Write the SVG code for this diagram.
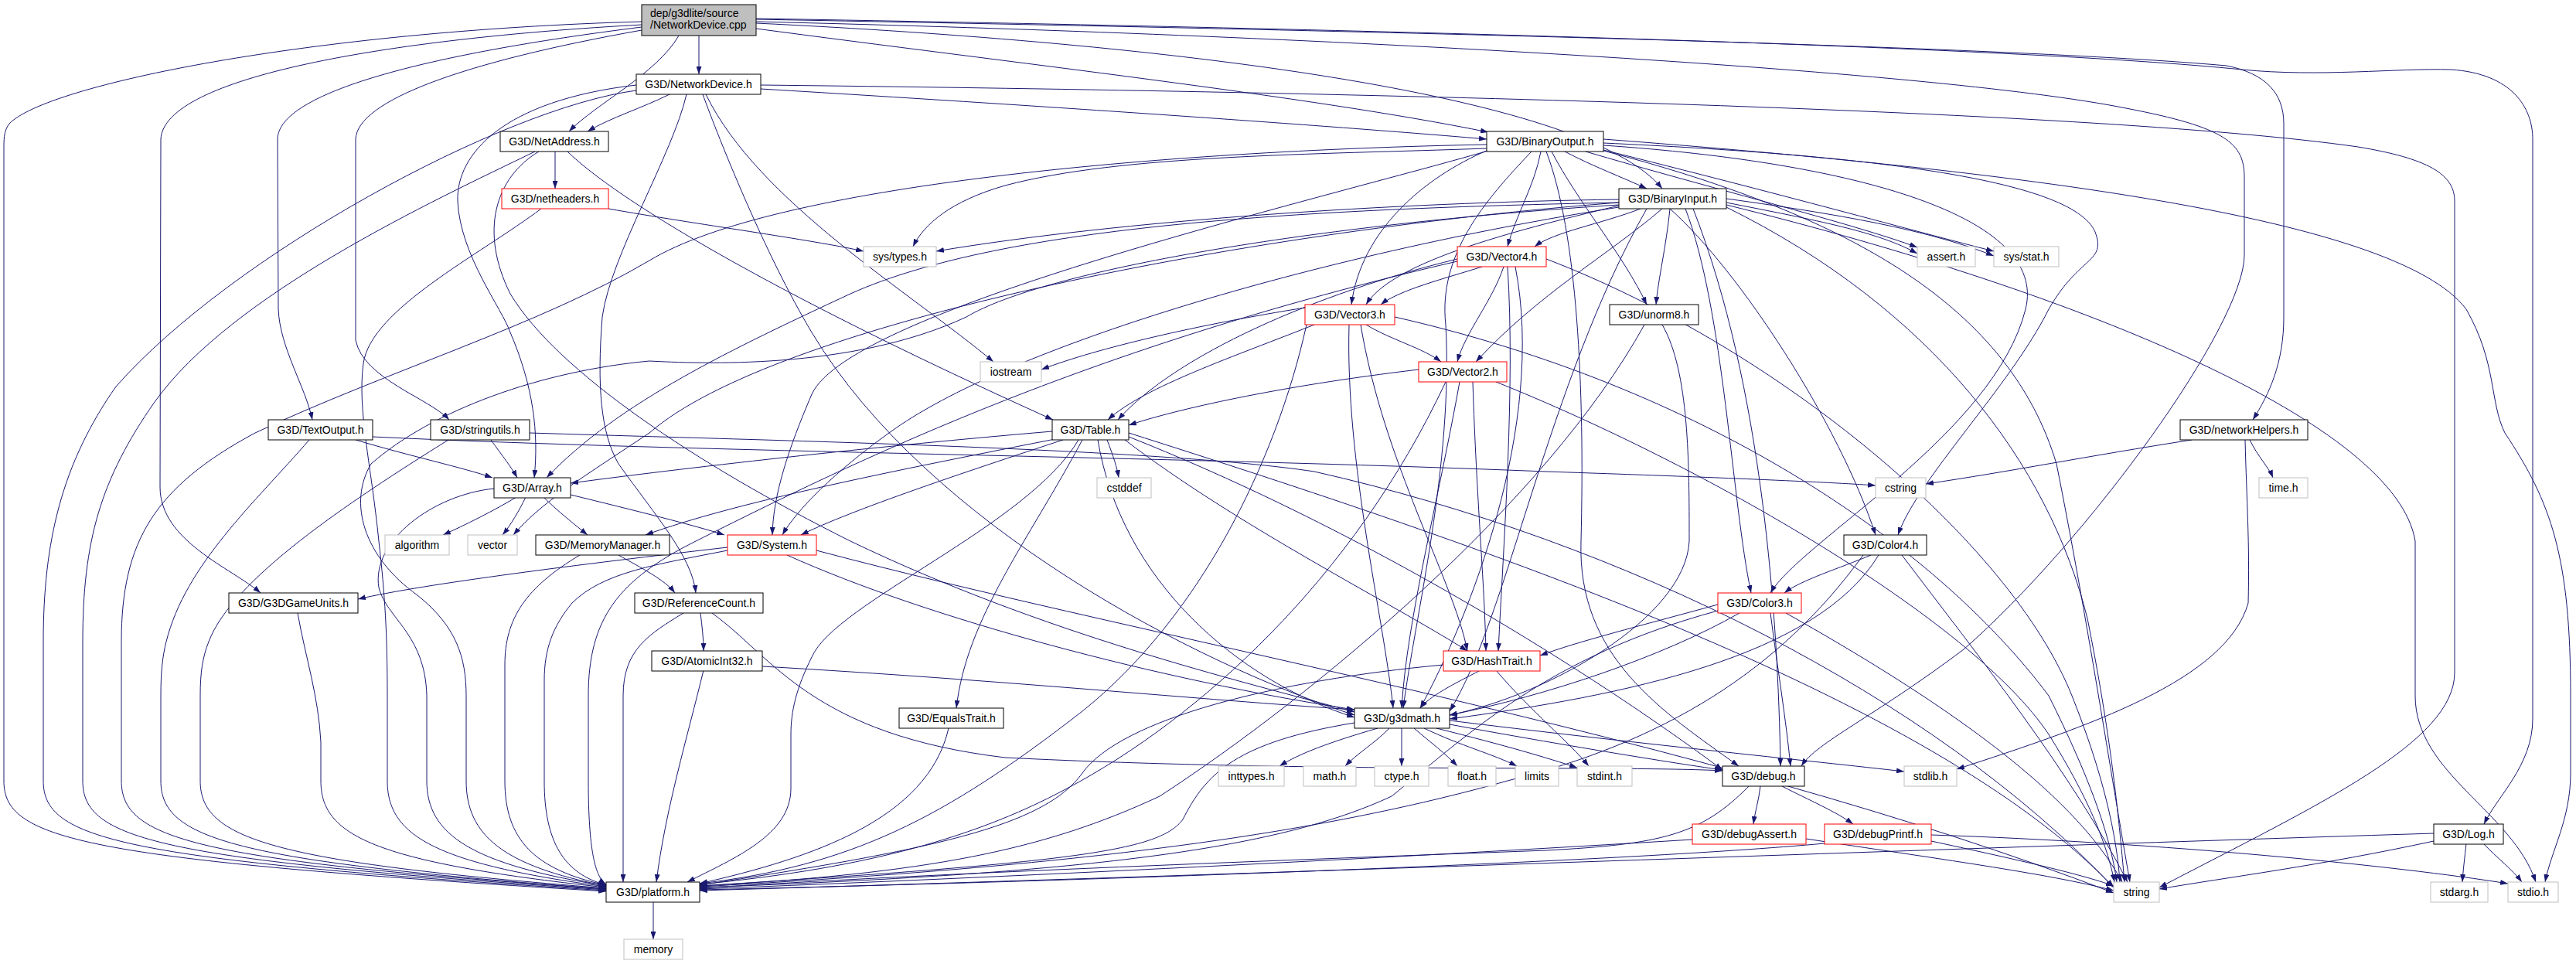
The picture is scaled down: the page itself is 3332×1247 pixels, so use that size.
<svg xmlns="http://www.w3.org/2000/svg" width="3332" height="1247" viewBox="0 0 3332 1247">
<style>
.e{fill:none;stroke:#191970;stroke-width:1;marker-end:url(#a)}
.n rect{fill:#fff;stroke:#000;stroke-width:1}
.r rect{fill:#fff;stroke:#ff0000;stroke-width:1}
.s rect{fill:#fff;stroke:#bfbfbf;stroke-width:1}
.root rect{fill:#bfbfbf;stroke:#000;stroke-width:1}
text{font-family:"Liberation Sans",Arial,sans-serif;font-size:14px;fill:#000;text-anchor:middle}
.root text{text-anchor:start}
</style>
<defs>
<marker id="a" viewBox="0 0 10 7" refX="10" refY="3.5" markerWidth="10" markerHeight="7" markerUnits="userSpaceOnUse" orient="auto"><path d="M0,0L10,3.5L0,7z" fill="#191970"/></marker>
</defs>
<rect width="3332" height="1247" fill="#fff"/>
<g id="edges">
<path class="e" d="M904,46 L904,96"/>
<path class="e" d="M878,46 C850,95 770,135 736,170"/>
<path class="e" d="M978,37 C1300,80 1700,125 1925,171"/>
<path class="e" d="M978,30 C1500,55 2050,120 2150,244"/>
<path class="e" d="M830,28 C400,40 60,110 12,160 C6,168 5,176 5,190 L5,1010 C5,1085 100,1112 784,1153"/>
<path class="e" d="M830,32 C500,50 212,100 208,180 L207,630 C207,700 300,735 337,767"/>
<path class="e" d="M830,35 C550,70 360,120 359,180 L360,400 C362,450 395,500 404,543"/>
<path class="e" d="M830,39 C600,80 462,130 460,180 L460,440 C470,490 555,515 581,543"/>
<path class="e" d="M978,28 C1700,45 2500,90 2750,140 C2880,165 2903,185 2903,230 L2903,330 C2903,420 2700,700 2540,840 C2420,930 2350,960 2330,991"/>
<path class="e" d="M978,25 C1800,40 2600,60 2880,85 C2930,95 2954,120 2954,160 L2954,410 C2954,470 2935,510 2914,543"/>
<path class="e" d="M978,24 C1800,38 2600,60 2900,90 C3000,100 3100,88 3170,90 C3250,95 3276,140 3276,180 L3276,930 C3276,990 3230,1030 3213,1066"/>
<path class="e" d="M866,122 C830,140 790,152 760,170"/>
<path class="e" d="M984,115 C1400,140 1750,165 1923,180"/>
<path class="e" d="M984,110 C1700,118 2700,140 3050,190 C3140,205 3175,225 3175,260 L3175,870 C3175,960 3000,1040 2793,1148"/>
<path class="e" d="M823,117 C650,140 300,330 150,500 C80,600 56,700 56,830 L56,1010 C56,1085 150,1112 784,1152"/>
<path class="e" d="M823,110 C650,130 590,200 592,260 C595,330 650,400 660,430 C690,500 697,560 691,618"/>
<path class="e" d="M888,122 C870,200 790,330 779,410 C772,500 777,560 800,600 C850,670 895,720 900,767"/>
<path class="e" d="M909,122 C930,180 990,330 1050,430 C1200,680 1550,860 1752,925"/>
<path class="e" d="M913,122 C980,260 1180,380 1285,468"/>
<path class="e" d="M718,196 L718,244"/>
<path class="e" d="M692,196 C560,260 300,380 200,520 C130,620 107,700 107,830 L107,1010 C107,1085 200,1112 784,1151"/>
<path class="e" d="M697,196 C640,230 620,300 660,380 C720,480 900,600 1100,700 C1350,820 1600,880 1752,921"/>
<path class="e" d="M734,196 C800,260 1000,380 1362,543"/>
<path class="e" d="M787,270 C900,290 1050,310 1117,325"/>
<path class="e" d="M700,270 C620,330 480,400 470,470 C462,530 480,600 490,700 C498,770 501,820 501,900 L501,1010 C501,1080 560,1117 784,1147"/>
<path class="e" d="M2024,196 C2060,215 2100,230 2130,244"/>
<path class="e" d="M1993,196 C1985,240 1960,280 1950,319"/>
<path class="e" d="M1925,194 C1840,230 1760,300 1748,394"/>
<path class="e" d="M2007,196 C2040,260 2100,330 2130,394"/>
<path class="e" d="M2051,196 C2200,240 2400,290 2480,320"/>
<path class="e" d="M2074,194 C2300,250 2480,300 2579,325"/>
<path class="e" d="M1923,192 C1700,200 1450,200 1300,240 C1230,260 1195,290 1181,319"/>
<path class="e" d="M1923,187 C1500,195 1000,240 840,337 C700,420 500,480 330,560 C200,630 157,700 157,830 L157,1010 C157,1085 250,1113 784,1150"/>
<path class="e" d="M1925,195 C1700,260 1100,400 1050,510 C1020,580 1000,640 999,692"/>
<path class="e" d="M1981,196 C1920,260 1860,330 1870,420 C1880,600 1830,800 1815,916"/>
<path class="e" d="M2074,185 C2400,200 2680,230 2710,300 C2725,340 2690,330 2650,400 C2600,500 2480,620 2455,692"/>
<path class="e" d="M2074,188 C2400,210 2650,280 2620,400 C2580,560 2330,700 2290,767"/>
<path class="e" d="M2000,196 C2040,300 2050,500 2045,700 C2040,850 2150,920 2249,991"/>
<path class="e" d="M2074,195 C2400,280 2600,400 2660,600 C2700,800 2730,1000 2755,1141"/>
<path class="e" d="M2074,180 C2600,220 3100,280 3190,400 C3230,470 3220,520 3240,560 C3300,650 3325,720 3325,900 L3325,1000 C3325,1060 3300,1100 3292,1141"/>
<path class="e" d="M2122,270 C2070,290 2010,300 1985,319"/>
<path class="e" d="M2094,266 C1950,300 1800,340 1767,394"/>
<path class="e" d="M2160,270 C2155,320 2145,360 2142,394"/>
<path class="e" d="M2150,270 C2080,330 1990,380 1909,468"/>
<path class="e" d="M2233,262 C2350,285 2430,300 2480,328"/>
<path class="e" d="M2233,257 C2400,280 2500,300 2579,331"/>
<path class="e" d="M2094,258 C1800,262 1450,285 1211,325"/>
<path class="e" d="M2094,262 C1700,270 1300,290 1100,380 C950,450 800,520 707,618"/>
<path class="e" d="M2094,268 C1700,330 1300,450 1150,560 C1080,610 1030,660 1012,692"/>
<path class="e" d="M2130,270 C2000,500 1950,800 1875,920"/>
<path class="e" d="M2190,270 C2280,500 2300,800 2303,991"/>
<path class="e" d="M2160,270 C2250,350 2380,550 2426,692"/>
<path class="e" d="M2180,270 C2230,400 2240,650 2265,767"/>
<path class="e" d="M2233,268 C2500,400 2650,600 2700,800 C2730,950 2740,1050 2748,1141"/>
<path class="e" d="M2233,265 C2700,380 3100,550 3124,700 L3124,900 C3124,1000 3250,1050 3280,1141"/>
<path class="e" d="M2094,265 C1700,290 1350,350 1250,410 C1100,480 900,470 840,467 C700,480 560,530 480,600 C450,650 470,720 540,770 C590,810 603,850 603,900 L603,1010 C603,1080 650,1120 784,1146"/>
<path class="e" d="M2094,262 C1600,300 1000,420 840,560 C750,620 700,650 664,692"/>
<path class="e" d="M1917,345 C1870,360 1810,375 1786,394"/>
<path class="e" d="M1945,345 C1930,390 1895,430 1885,468"/>
<path class="e" d="M1950,345 C1960,500 1945,700 1938,842"/>
<path class="e" d="M1960,345 C2000,550 1900,800 1837,916"/>
<path class="e" d="M1885,338 C1400,450 1100,600 900,700 C800,750 761,800 761,900 L761,1010 C761,1100 770,1135 784,1144"/>
<path class="e" d="M1885,335 C1700,380 1520,460 1446,543"/>
<path class="e" d="M2000,335 C2300,450 2600,700 2680,900 C2720,1000 2738,1080 2742,1141"/>
<path class="e" d="M1767,420 C1800,440 1840,450 1864,468"/>
<path class="e" d="M1688,398 C1550,420 1420,450 1347,478"/>
<path class="e" d="M1700,420 C1600,460 1480,500 1433,543"/>
<path class="e" d="M1745,420 C1740,600 1790,800 1802,916"/>
<path class="e" d="M1760,420 C1790,600 1880,750 1898,842"/>
<path class="e" d="M1690,420 C1650,600 1550,800 1400,920 C1220,1060 1100,1120 905,1143"/>
<path class="e" d="M1804,410 C2200,500 2500,700 2650,900 C2700,1000 2730,1080 2738,1141"/>
<path class="e" d="M1835,478 C1650,500 1520,530 1460,550"/>
<path class="e" d="M1888,494 C1860,650 1820,800 1813,916"/>
<path class="e" d="M1905,494 C1910,650 1920,750 1922,842"/>
<path class="e" d="M1870,494 C1750,750 1550,930 1380,1020 C1250,1090 1100,1125 905,1144"/>
<path class="e" d="M1935,494 C2200,600 2550,800 2650,950 C2700,1030 2725,1090 2735,1141"/>
<path class="e" d="M2150,420 C2185,480 2185,600 2185,700 C2180,800 2000,900 1875,925"/>
<path class="e" d="M2127,420 C2000,650 1700,900 1500,1030 C1350,1100 1200,1130 905,1146"/>
<path class="e" d="M1361,558 C1100,580 850,610 738,625"/>
<path class="e" d="M1375,569 C1250,610 1100,660 1036,692"/>
<path class="e" d="M1380,565 C1150,610 950,650 835,692"/>
<path class="e" d="M1432,569 C1440,590 1445,605 1447,618"/>
<path class="e" d="M1395,569 C1330,680 1080,780 1050,850 C1030,890 1023,920 1023,950 L1023,1020 C1023,1080 950,1110 889,1141"/>
<path class="e" d="M1400,569 C1330,700 1250,800 1237,916"/>
<path class="e" d="M1420,569 C1450,750 1600,880 1752,928"/>
<path class="e" d="M1455,569 C1600,680 1800,780 1898,842"/>
<path class="e" d="M1460,565 C1800,700 2100,900 2228,996"/>
<path class="e" d="M1460,560 C1900,700 2500,900 2734,1148"/>
<path class="e" d="M2835,569 C2700,590 2600,610 2491,626"/>
<path class="e" d="M2910,569 C2920,590 2935,605 2940,618"/>
<path class="e" d="M2904,569 C2906,650 2910,700 2908,780 C2880,880 2700,940 2531,995"/>
<path class="e" d="M460,569 C530,590 600,605 637,618"/>
<path class="e" d="M400,569 C330,650 240,730 215,830 C210,850 208,870 208,900 L208,1010 C208,1085 300,1114 784,1150"/>
<path class="e" d="M482,565 C900,585 1500,590 2000,610 C2300,620 2400,626 2426,628"/>
<path class="e" d="M635,569 C650,590 662,605 669,618"/>
<path class="e" d="M580,569 C450,650 300,750 270,830 C262,850 259,870 259,900 L259,1010 C259,1085 350,1115 784,1149"/>
<path class="e" d="M685,560 C1000,570 1500,580 1700,610 C2100,700 2500,900 2734,1148"/>
<path class="e" d="M668,643 C640,660 600,680 573,692"/>
<path class="e" d="M680,643 C672,660 660,680 650,692"/>
<path class="e" d="M703,643 C720,660 745,680 760,692"/>
<path class="e" d="M738,640 C820,660 900,680 937,692"/>
<path class="e" d="M639,632 C560,640 480,700 490,760 C500,800 550,820 552,900 L552,1010 C552,1080 610,1118 784,1146"/>
<path class="e" d="M750,718 C680,760 653,800 653,860 L653,1010 C653,1085 690,1125 784,1145"/>
<path class="e" d="M800,718 C830,735 860,750 873,767"/>
<path class="e" d="M941,708 C750,730 550,755 463,775"/>
<path class="e" d="M1018,718 C1200,800 1500,880 1752,918"/>
<path class="e" d="M941,712 C850,730 780,740 740,780 C715,810 704,840 704,880 L704,1010 C704,1090 730,1130 784,1145"/>
<path class="e" d="M1056,712 C1500,830 2200,950 2734,1155"/>
<path class="e" d="M385,793 C395,850 412,900 415,960 L415,1010 C415,1080 480,1115 784,1148"/>
<path class="e" d="M884,793 C840,820 806,840 806,900 L806,1141"/>
<path class="e" d="M906,793 C908,810 910,825 910,842"/>
<path class="e" d="M921,793 C1000,850 1050,950 1300,980 C1700,1000 2100,990 2228,997"/>
<path class="e" d="M910,867 C890,950 860,1050 849,1141"/>
<path class="e" d="M986,862 C1300,880 1550,905 1752,918"/>
<path class="e" d="M1227,942 C1200,1060 1050,1110 905,1143"/>
<path class="e" d="M1915,867 C1880,885 1850,900 1837,916"/>
<path class="e" d="M1935,867 C1980,920 2030,960 2055,991"/>
<path class="e" d="M1867,860 C1650,880 1450,930 1400,1000 C1350,1070 1200,1100 905,1145"/>
<path class="e" d="M1782,942 C1720,960 1680,975 1655,991"/>
<path class="e" d="M1797,942 C1780,960 1755,975 1740,991"/>
<path class="e" d="M1813,942 L1813,991"/>
<path class="e" d="M1829,942 C1850,960 1870,975 1885,991"/>
<path class="e" d="M1842,942 C1890,965 1930,975 1962,991"/>
<path class="e" d="M1858,942 C1950,965 2000,980 2040,993"/>
<path class="e" d="M1875,937 C2000,960 2150,985 2228,996"/>
<path class="e" d="M1875,932 C2100,960 2350,985 2463,998"/>
<path class="e" d="M1752,935 C1600,960 1560,1000 1530,1060 C1500,1100 1400,1115 905,1146"/>
<path class="e" d="M2277,1017 C2275,1035 2270,1050 2268,1066"/>
<path class="e" d="M2305,1017 C2340,1035 2375,1050 2397,1066"/>
<path class="e" d="M2262,1017 C2200,1080 2150,1092 2000,1100 C1600,1115 1200,1130 905,1149"/>
<path class="e" d="M2189,1086 C1800,1110 1300,1135 905,1150"/>
<path class="e" d="M2336,1085 C2500,1110 2650,1130 2734,1152"/>
<path class="e" d="M2360,1091 C2100,1115 1400,1140 905,1151"/>
<path class="e" d="M2498,1088 C2600,1110 2690,1130 2734,1146"/>
<path class="e" d="M2498,1080 C2800,1090 3100,1120 3244,1143"/>
<path class="e" d="M3148,1078 C2600,1095 1500,1135 905,1152"/>
<path class="e" d="M3148,1088 C3000,1120 2880,1135 2793,1150"/>
<path class="e" d="M3190,1091 C3188,1110 3186,1125 3185,1141"/>
<path class="e" d="M3212,1091 C3230,1110 3250,1125 3262,1141"/>
<path class="e" d="M2420,718 C2380,735 2330,750 2308,767"/>
<path class="e" d="M2430,718 C2350,850 2100,900 1875,930"/>
<path class="e" d="M2410,718 C2300,870 2150,960 1950,1010 C1700,1080 1400,1120 905,1147"/>
<path class="e" d="M2460,718 C2560,850 2680,1000 2752,1141"/>
<path class="e" d="M2222,782 C2120,810 2040,830 1992,848"/>
<path class="e" d="M2250,793 C2150,850 2000,900 1875,925"/>
<path class="e" d="M2290,793 C2300,870 2310,930 2316,991"/>
<path class="e" d="M2222,790 C2000,850 1900,950 1800,1030 C1650,1100 1400,1130 905,1148"/>
<path class="e" d="M2310,793 C2500,900 2680,1020 2745,1141"/>
<path class="e" d="M845,1166 L845,1215"/>
</g>
<g id="n_root" class="root"><rect x="830" y="6" width="148" height="40"/><text x="841" y="22">dep/g3dlite/source</text><text x="841" y="37">/NetworkDevice.cpp</text></g>
<g id="n_networkdevice_h" class="n"><rect x="823" y="96" width="161" height="26"/><text x="903.5" y="114">G3D/NetworkDevice.h</text></g>
<g id="n_netaddress" class="n"><rect x="647" y="170" width="140" height="26"/><text x="717" y="188">G3D/NetAddress.h</text></g>
<g id="n_binaryoutput" class="n"><rect x="1923" y="170" width="151" height="26"/><text x="1998.5" y="188">G3D/BinaryOutput.h</text></g>
<g id="n_netheaders" class="r"><rect x="649" y="244" width="138" height="26"/><text x="718" y="262">G3D/netheaders.h</text></g>
<g id="n_binaryinput" class="n"><rect x="2094" y="244" width="139" height="26"/><text x="2163.5" y="262">G3D/BinaryInput.h</text></g>
<g id="n_systypes" class="s"><rect x="1117" y="319" width="94" height="26"/><text x="1164" y="337">sys/types.h</text></g>
<g id="n_vector4" class="r"><rect x="1885" y="319" width="115" height="26"/><text x="1942.5" y="337">G3D/Vector4.h</text></g>
<g id="n_assert" class="s"><rect x="2480" y="319" width="75" height="26"/><text x="2517.5" y="337">assert.h</text></g>
<g id="n_sysstat" class="s"><rect x="2579" y="319" width="84" height="26"/><text x="2621" y="337">sys/stat.h</text></g>
<g id="n_vector3" class="r"><rect x="1688" y="394" width="116" height="26"/><text x="1746" y="412">G3D/Vector3.h</text></g>
<g id="n_unorm8" class="n"><rect x="2082" y="394" width="115" height="26"/><text x="2139.5" y="412">G3D/unorm8.h</text></g>
<g id="n_iostream" class="s"><rect x="1268" y="468" width="79" height="26"/><text x="1307.5" y="486">iostream</text></g>
<g id="n_vector2" class="r"><rect x="1835" y="468" width="114" height="26"/><text x="1892" y="486">G3D/Vector2.h</text></g>
<g id="n_textoutput" class="n"><rect x="347" y="543" width="135" height="26"/><text x="414.5" y="561">G3D/TextOutput.h</text></g>
<g id="n_stringutils" class="n"><rect x="557" y="543" width="128" height="26"/><text x="621" y="561">G3D/stringutils.h</text></g>
<g id="n_table" class="n"><rect x="1361" y="543" width="99" height="26"/><text x="1410.5" y="561">G3D/Table.h</text></g>
<g id="n_networkhelpers" class="n"><rect x="2820" y="543" width="165" height="26"/><text x="2902.5" y="561">G3D/networkHelpers.h</text></g>
<g id="n_array" class="n"><rect x="639" y="618" width="99" height="26"/><text x="688.5" y="636">G3D/Array.h</text></g>
<g id="n_cstddef" class="s"><rect x="1419" y="618" width="70" height="26"/><text x="1454" y="636">cstddef</text></g>
<g id="n_cstring" class="s"><rect x="2426" y="618" width="65" height="26"/><text x="2458.5" y="636">cstring</text></g>
<g id="n_time" class="s"><rect x="2922" y="618" width="63" height="26"/><text x="2953.5" y="636">time.h</text></g>
<g id="n_algorithm" class="s"><rect x="498" y="692" width="83" height="26"/><text x="539.5" y="710">algorithm</text></g>
<g id="n_vector" class="s"><rect x="605" y="692" width="64" height="26"/><text x="637" y="710">vector</text></g>
<g id="n_memorymanager" class="n"><rect x="693" y="692" width="173" height="26"/><text x="779.5" y="710">G3D/MemoryManager.h</text></g>
<g id="n_system" class="r"><rect x="941" y="692" width="115" height="26"/><text x="998.5" y="710">G3D/System.h</text></g>
<g id="n_color4" class="n"><rect x="2385" y="692" width="107" height="26"/><text x="2438.5" y="710">G3D/Color4.h</text></g>
<g id="n_g3dgameunits" class="n"><rect x="296" y="767" width="167" height="26"/><text x="379.5" y="785">G3D/G3DGameUnits.h</text></g>
<g id="n_referencecount" class="n"><rect x="821" y="767" width="166" height="26"/><text x="904" y="785">G3D/ReferenceCount.h</text></g>
<g id="n_color3" class="r"><rect x="2222" y="767" width="108" height="26"/><text x="2276" y="785">G3D/Color3.h</text></g>
<g id="n_atomicint32" class="n"><rect x="843" y="842" width="143" height="26"/><text x="914.5" y="860">G3D/AtomicInt32.h</text></g>
<g id="n_hashtrait" class="r"><rect x="1867" y="842" width="125" height="26"/><text x="1929.5" y="860">G3D/HashTrait.h</text></g>
<g id="n_equalstrait" class="n"><rect x="1163" y="916" width="135" height="26"/><text x="1230.5" y="934">G3D/EqualsTrait.h</text></g>
<g id="n_g3dmath" class="n"><rect x="1752" y="916" width="123" height="26"/><text x="1813.5" y="934">G3D/g3dmath.h</text></g>
<g id="n_inttypes" class="s"><rect x="1576" y="991" width="85" height="26"/><text x="1618.5" y="1009">inttypes.h</text></g>
<g id="n_math" class="s"><rect x="1686" y="991" width="68" height="26"/><text x="1720" y="1009">math.h</text></g>
<g id="n_ctype" class="s"><rect x="1778" y="991" width="70" height="26"/><text x="1813" y="1009">ctype.h</text></g>
<g id="n_float" class="s"><rect x="1873" y="991" width="62" height="26"/><text x="1904" y="1009">float.h</text></g>
<g id="n_limits" class="s"><rect x="1960" y="991" width="56" height="26"/><text x="1988" y="1009">limits</text></g>
<g id="n_stdint" class="s"><rect x="2040" y="991" width="71" height="26"/><text x="2075.5" y="1009">stdint.h</text></g>
<g id="n_debug" class="n"><rect x="2228" y="991" width="106" height="26"/><text x="2281" y="1009">G3D/debug.h</text></g>
<g id="n_stdlib" class="s"><rect x="2463" y="991" width="68" height="26"/><text x="2497" y="1009">stdlib.h</text></g>
<g id="n_debugassert" class="r"><rect x="2189" y="1066" width="147" height="26"/><text x="2262.5" y="1084">G3D/debugAssert.h</text></g>
<g id="n_debugprintf" class="r"><rect x="2360" y="1066" width="138" height="26"/><text x="2429" y="1084">G3D/debugPrintf.h</text></g>
<g id="n_log" class="n"><rect x="3148" y="1066" width="90" height="26"/><text x="3193" y="1084">G3D/Log.h</text></g>
<g id="n_platform" class="n"><rect x="784" y="1141" width="121" height="26"/><text x="844.5" y="1159">G3D/platform.h</text></g>
<g id="n_string" class="s"><rect x="2734" y="1141" width="59" height="26"/><text x="2763.5" y="1159">string</text></g>
<g id="n_stdarg" class="s"><rect x="3144" y="1141" width="74" height="26"/><text x="3181" y="1159">stdarg.h</text></g>
<g id="n_stdio" class="s"><rect x="3244" y="1141" width="65" height="26"/><text x="3276.5" y="1159">stdio.h</text></g>
<g id="n_memory" class="s"><rect x="807" y="1215" width="76" height="26"/><text x="845" y="1233">memory</text></g>
</svg>
